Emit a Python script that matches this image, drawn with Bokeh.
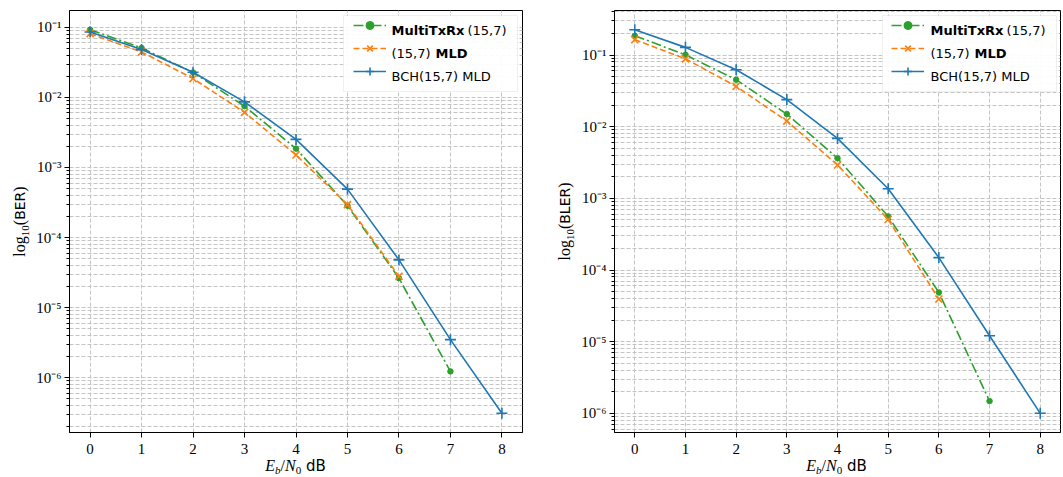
import math
from bokeh.plotting import figure
from bokeh.models import (Range1d, FixedTicker, CustomJSTickFormatter, Legend,
                          LegendItem, Label, ColumnDataSource, Div, BoxAnnotation)
from bokeh.layouts import row, column
from bokeh.embed import file_html
from bokeh.resources import INLINE

# ---------------- data ----------------
ebn0 = [0, 1, 2, 3, 4, 5, 6, 7, 8]
x_ticks = [0, 1, 2, 3, 4, 5, 6, 7, 8]

ber_multitxrx = [0.0927, 0.0508, 0.0227, 0.00751, 0.00186, 2.85e-4, 2.63e-5, 1.23e-6]
ber_mld = [0.0814, 0.0446, 0.0186, 0.00612, 0.00151, 2.95e-4, 2.8e-5]
ber_bch = [0.0857, 0.0482, 0.0229, 0.00865, 0.00252, 4.91e-4, 4.8e-5, 3.49e-6, 3.1e-7]

bler_multitxrx = [0.186, 0.1007, 0.0453, 0.0150, 0.00363, 5.6e-4, 4.87e-5, 1.48e-6]
bler_mld = [0.164, 0.0886, 0.0366, 0.0120, 0.00293, 5.07e-4, 3.93e-5]
bler_bch = [0.226, 0.128, 0.0624, 0.0239, 0.00687, 0.00136, 1.49e-4, 1.21e-5, 1.0e-6]

legend_parts = [
    [("MultiTxRx", "bold"), (" (15,7)", "normal")],
    [("(15,7) ", "normal"), ("MLD", "bold")],
    [("BCH(15,7) MLD", "normal")],
]
y_labels = ["BER", "BLER"]

GREEN = "#2ca02c"
ORANGE = "#ff7f0e"
BLUE = "#1f77b4"
GRID = "#c4c4c4"

SERIF = "Liberation Serif"
SANS = "DejaVu Sans"

FH = 422          # frame height
BT = 10           # top border
BB = 26           # bottom border
H = BT + FH + BB  # figure height
XLAB_H = 18


def log_limits(*series):
    vals = [v for s in series for v in s]
    lo, hi = math.log10(min(vals)), math.log10(max(vals))
    pad = 0.05 * (hi - lo)
    return 10 ** (lo - pad), 10 ** (hi + pad)


SUP_JS = """
const e = Math.round(Math.log10(tick));
const sup = {"-": "\\u207B", "0": "\\u2070", "1": "\\u00B9", "2": "\\u00B2", "3": "\\u00B3",
             "4": "\\u2074", "5": "\\u2075", "6": "\\u2076", "7": "\\u2077", "8": "\\u2078", "9": "\\u2079"};
return "10" + String(e).split("").map(c => sup[c]).join("");
"""


def add_text(p, x, y, text, font, size, style="normal"):
    p.add_layout(Label(x=x, y=y, x_units="screen", y_units="screen", text=text,
                       text_font=font, text_font_size=f"{size}px",
                       text_font_style=style, text_align="left",
                       text_baseline="middle", text_color="black",
                       level="overlay"))


def make_panel(series, width, border_left, border_right):
    fw = width - border_left - border_right
    xpad = 0.05 * (max(ebn0) - min(ebn0))
    ylo, yhi = log_limits(*series)
    p = figure(width=width, height=H, y_axis_type="log",
               x_range=Range1d(min(ebn0) - xpad, max(ebn0) + xpad),
               y_range=Range1d(ylo, yhi),
               output_backend="svg", toolbar_location=None,
               min_border_left=border_left, min_border_right=border_right,
               min_border_top=BT, min_border_bottom=BB)
    p.background_fill_color = "white"
    p.border_fill_color = "white"
    p.outline_line_color = "black"
    p.outline_line_width = 1
    p.outline_line_alpha = 1

    p.xaxis.ticker = FixedTicker(ticks=x_ticks)
    dec = list(range(-8, 1))
    p.yaxis.ticker = FixedTicker(ticks=[10.0 ** k for k in dec],
                                 minor_ticks=[m * 10.0 ** k for k in dec for m in range(2, 10)])
    p.yaxis.formatter = CustomJSTickFormatter(code=SUP_JS)

    for ax in (p.xaxis, p.yaxis):
        ax.axis_line_color = "black"
        ax.major_tick_line_color = "black"
        ax.minor_tick_line_color = "black"
        ax.major_tick_out = 5
        ax.major_tick_in = 0
        ax.minor_tick_out = 3
        ax.minor_tick_in = 0
        ax.major_label_text_font = SERIF
        ax.major_label_text_font_size = "15px"
        ax.major_label_text_color = "black"
    p.yaxis.major_label_standoff = 3
    p.xaxis.major_label_standoff = 6
    p.xaxis.minor_tick_line_color = None

    for g in (p.xgrid, p.ygrid):
        g.grid_line_color = GRID
        g.grid_line_dash = "4 2"
        g.grid_line_width = 1
    p.ygrid.minor_grid_line_color = GRID
    p.ygrid.minor_grid_line_dash = "4 2"
    p.ygrid.minor_grid_line_width = 1

    # legend box geometry (screen px, relative to the frame)
    margin, pad, gw, stand, lw, rh, sp = 5, 5, 33, 10, 121, 20, 3
    box_w = 2 * pad + gw + stand + lw
    box_h = 2 * pad + 3 * rh + 2 * sp
    box_left = fw - margin - box_w
    box_top = FH - margin
    p.add_layout(BoxAnnotation(left=box_left, right=box_left + box_w,
                               top=box_top, bottom=box_top - box_h,
                               left_units="screen", right_units="screen",
                               top_units="screen", bottom_units="screen",
                               fill_color="white", fill_alpha=0.92,
                               line_color="#cccccc", line_width=1,
                               level="underlay"))

    y_multi, y_mld, y_bch = series
    s1 = ColumnDataSource(dict(x=ebn0[:len(y_multi)], y=y_multi))
    s2 = ColumnDataSource(dict(x=ebn0[:len(y_mld)], y=y_mld))
    s3 = ColumnDataSource(dict(x=ebn0[:len(y_bch)], y=y_bch))

    l1 = p.line("x", "y", source=s1, color=GREEN, line_width=1.6, line_dash="10 3 2 3")
    m1 = p.scatter("x", "y", source=s1, marker="circle", size=5.5, color=GREEN)
    l2 = p.line("x", "y", source=s2, color=ORANGE, line_width=1.6, line_dash="6 3")
    m2 = p.scatter("x", "y", source=s2, marker="x", size=10, color=ORANGE, line_width=1.6)
    l3 = p.line("x", "y", source=s3, color=BLUE, line_width=1.6)
    m3 = p.scatter("x", "y", source=s3, marker="cross", size=11, color=BLUE, line_width=1.6)

    legend = Legend(items=[LegendItem(label=" ", renderers=[l1, m1]),
                           LegendItem(label=" ", renderers=[l2, m2]),
                           LegendItem(label=" ", renderers=[l3, m3])],
                    location="top_right", margin=margin, padding=pad,
                    spacing=sp, glyph_width=gw, glyph_height=rh,
                    label_height=rh, label_width=lw, label_standoff=stand,
                    label_text_font_size="13px",
                    border_line_color=None,
                    background_fill_alpha=0.0)
    p.add_layout(legend)

    tx = box_left + pad + gw + stand
    widths = {"MultiTxRx": 76, " (15,7)": 0, "(15,7) ": 44, "MLD": 0, "BCH(15,7) MLD": 0}
    for i, parts in enumerate(legend_parts):
        cy = box_top - pad - rh / 2 - i * (rh + sp)
        xx = tx
        for txt, wt in parts:
            add_text(p, xx, cy, txt, SANS, 13, style=wt)
            xx += widths[txt]
    return p, fw


def ylabel_div(name, width, center_x_in_div):
    dx = center_x_in_div - width / 2
    cy = BT + FH / 2
    serif = f"font-family:'{SERIF}';"
    sans = f"font-family:'{SANS}';"
    html = (
        f"<div style='width:{width}px;height:{2 * cy}px;display:flex;align-items:center;"
        f"justify-content:center;position:relative;left:{dx}px;'>"
        f"<div style='flex-shrink:0;transform:rotate(-90deg);white-space:nowrap;color:black;line-height:18px;'>"
        f"<span style=\"{serif}font-size:16px\">log</span>"
        f"<span style=\"{serif}font-size:11px;position:relative;top:4px\">10</span>"
        f"<span style=\"{serif}font-size:16px\">(</span>"
        f"<span style=\"{sans}font-size:14px\">{name}</span>"
        f"<span style=\"{serif}font-size:16px\">)</span>"
        f"</div></div>"
    )
    return Div(text=html, width=width, height=H, margin=(0, 0, 0, 0))


def xlabel_div(width, center_x_in_div):
    dx = center_x_in_div - width / 2
    serif = f"font-family:'{SERIF}';"
    sans = f"font-family:'{SANS}';"
    html = (
        f"<div style='width:{width}px;text-align:center;position:relative;left:{dx}px;"
        f"line-height:16px;color:black;white-space:nowrap;'>"
        f"<span style=\"{serif}font-style:italic;font-size:16px\">E</span>"
        f"<span style=\"{serif}font-style:italic;font-size:11px;position:relative;top:3px\">b</span>"
        f"<span style=\"{serif}font-size:16px\">/</span>"
        f"<span style=\"{serif}font-style:italic;font-size:16px\">N</span>"
        f"<span style=\"{serif}font-size:11px;position:relative;top:3px\">0</span>"
        f"<span style=\"{sans}font-size:15px\">&nbsp;dB</span>"
        f"</div>"
    )
    return Div(text=html, width=width, height=XLAB_H, margin=(0, 0, 0, 0))


# ---------------- layout ----------------
YL1_W, P1_W, P1_BL, P1_BR = 30, 522, 39, 30
YL2_W, P2_W, P2_BL, P2_BR = 26, 484, 35, 2

p1, fw1 = make_panel((ber_multitxrx, ber_mld, ber_bch), P1_W, P1_BL, P1_BR)
p2, fw2 = make_panel((bler_multitxrx, bler_mld, bler_bch), P2_W, P2_BL, P2_BR)

yl1 = ylabel_div(y_labels[0], YL1_W, 20)
yl2 = ylabel_div(y_labels[1], YL2_W, 13)

x1_w = YL1_W + P1_W
x2_w = YL2_W + P2_W
xl1 = xlabel_div(x1_w, YL1_W + P1_BL + fw1 / 2)
xl2 = xlabel_div(x2_w, YL2_W + P2_BL + fw2 / 2)

layout = column(row(yl1, p1, yl2, p2, spacing=0), row(xl1, xl2, spacing=0), spacing=0)
open("out.html", "w").write(file_html(layout, INLINE))
